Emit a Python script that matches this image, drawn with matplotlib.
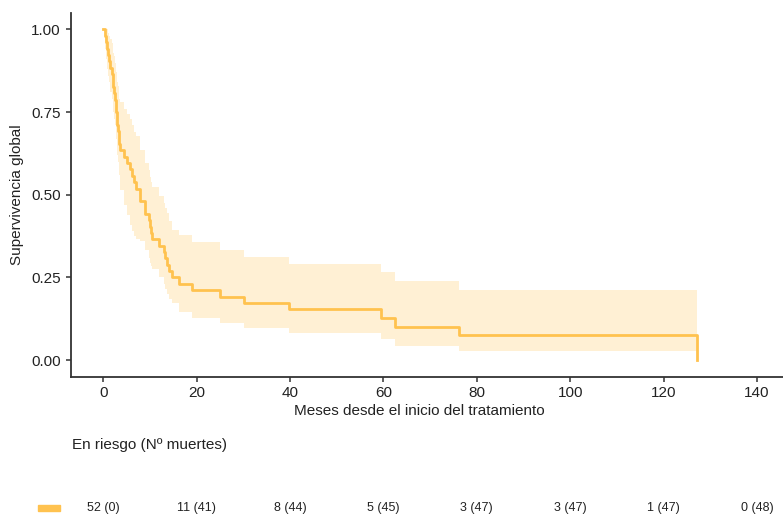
"""Kaplan-Meier curve of overall survival with risk table."""

import matplotlib.pyplot as plt

# step times (months) and survival after each step
times = [0.0, 0.4, 0.6, 0.8, 1.0, 1.2, 1.4, 1.9, 2.0, 2.1, 2.2, 2.4, 2.6, 2.7, 2.9,
         3.0, 3.2, 3.3, 3.4, 3.5, 4.4, 5.1, 5.8, 6.2, 6.5, 6.9, 7.8, 9.0, 9.7,
         10.0, 10.2, 10.4, 11.9, 12.9, 13.2, 13.6, 14.0, 14.7, 16.1, 19.0, 25.0,
         30.1, 39.8, 59.4, 62.4, 76.1, 127.1]
surv = [1.0, 0.981, 0.962, 0.942, 0.923, 0.904, 0.885, 0.865, 0.846, 0.827, 0.808,
        0.788, 0.769, 0.750, 0.731, 0.712, 0.692, 0.673, 0.654, 0.635, 0.615,
        0.596, 0.577, 0.558, 0.538, 0.519, 0.481, 0.442, 0.423, 0.404, 0.385,
        0.365, 0.346, 0.327, 0.308, 0.288, 0.269, 0.250, 0.231, 0.212, 0.192,
        0.173, 0.154, 0.126, 0.101, 0.076, 0.0]
# confidence band, last value just closes the final interval
upper = [1.0, 1.0, 1.0, 1.0, 0.99, 0.98, 0.97, 0.96, 0.95, 0.93, 0.92, 0.90, 0.89,
         0.87, 0.86, 0.84, 0.83, 0.81, 0.79, 0.78, 0.76, 0.745, 0.73, 0.71, 0.69,
         0.677, 0.636, 0.596, 0.575, 0.555, 0.54, 0.525, 0.495, 0.475, 0.46, 0.444,
         0.42, 0.394, 0.379, 0.356, 0.333, 0.313, 0.291, 0.266, 0.239, 0.212, 0.212]
lower = [1.0, 0.94, 0.91, 0.88, 0.86, 0.84, 0.81, 0.79, 0.77, 0.75, 0.73, 0.71, 0.69,
         0.67, 0.65, 0.62, 0.60, 0.58, 0.56, 0.515, 0.47, 0.44, 0.41, 0.39, 0.375,
         0.365, 0.36, 0.333, 0.31, 0.295, 0.285, 0.275, 0.252, 0.23, 0.215, 0.2,
         0.185, 0.172, 0.145, 0.126, 0.111, 0.096, 0.082, 0.063, 0.042, 0.027, 0.027]

# risk table
risk_times = [0, 20, 40, 60, 80, 100, 120, 140]
at_risk = [52, 11, 8, 5, 3, 3, 1, 0]
deaths = [0, 41, 44, 45, 47, 47, 47, 48]

LINE = "#FFC24F"
FILL = "#FFF0D4"
INK = "#333333"

plt.rcParams["font.family"] = ["Liberation Sans", "DejaVu Sans"]

fig = plt.figure(figsize=(7.83, 5.18), dpi=100)
ax = fig.add_axes([0.0903, 0.2728, 0.9097, 0.7022])

ax.fill_between(times, lower, upper, step="post", color=FILL, linewidth=0)
ax.step(times, surv, where="post", color=LINE, linewidth=2)

ax.set_xlim(-7, 145.6)
ax.set_ylim(-0.05, 1.05)
ax.set_xticks(risk_times)
ax.set_yticks([0, 0.25, 0.5, 0.75, 1.0])
ax.set_yticklabels(["0.00", "0.25", "0.50", "0.75", "1.00"])
ax.tick_params(colors=INK, labelcolor="#222222", labelsize=11, length=3.5, width=1.1)
for side in ("top", "right"):
    ax.spines[side].set_visible(False)
for side in ("left", "bottom"):
    ax.spines[side].set_color(INK)
    ax.spines[side].set_linewidth(1.3)

ax.set_xlabel("Meses desde el inicio del tratamiento", fontsize=11, color="#222222")
ax.xaxis.set_label_coords(0.489, -0.076)
ax.set_ylabel("Supervivencia global", fontsize=11, color="#222222", labelpad=5)

# risk table below the plot, aligned with the x axis
fig.text(72 / 783, 1 - 445 / 518, "En riesgo (N\u00ba muertes)", fontsize=11,
         color="#222222", ha="left", va="center")
trans = ax.get_xaxis_transform()
for t, n, d in zip(risk_times, at_risk, deaths):
    ax.text(t, -0.36, f"{n} ({d})", transform=trans, fontsize=9, color="#222222",
            ha="center", va="center", clip_on=False)
fig.patches.append(plt.Rectangle((38 / 783, 1 - 511 / 518), 22 / 783, 6 / 518,
                                 transform=fig.transFigure, color=LINE))

fig.savefig("out.png", dpi=100)
